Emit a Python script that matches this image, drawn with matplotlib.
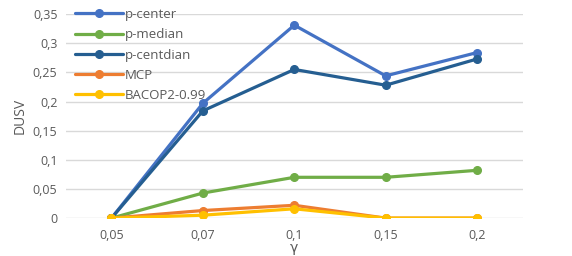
import matplotlib
matplotlib.use("Agg")
import matplotlib.pyplot as plt

plt.rcParams["font.family"] = ["Open Sans", "DejaVu Sans"]

gammas = ["0,05", "0,07", "0,1", "0,15", "0,2"]
p_center = [0.0, 0.197, 0.331, 0.244, 0.284]
p_median = [0.0, 0.043, 0.070, 0.070, 0.082]
p_centdian = [0.0, 0.184, 0.255, 0.228, 0.273]
mcp = [0.0, 0.013, 0.022, 0.0, 0.0]
bacop = [0.0, 0.005, 0.016, 0.0, 0.0]

series = [
    ("p-center", p_center, "#4472C4"),
    ("p-median", p_median, "#70AD47"),
    ("p-centdian", p_centdian, "#255E91"),
    ("MCP", mcp, "#ED7D31"),
    ("BACOP2-0.99", bacop, "#FFC000"),
]

fig = plt.figure(figsize=(5.72, 2.56), dpi=100)
ax = fig.add_axes([0.115, 0.148, 0.799, 0.797])

x = list(range(len(gammas)))
for name, vals, col in series:
    ax.plot(x, vals, color=col, lw=2.3, marker="o", ms=5.5, label=name,
            solid_capstyle="round")

ax.set_xlim(-0.5, len(gammas) - 0.5)
ax.set_ylim(0, 0.35)
ax.set_xticks(x)
ax.set_xticklabels(gammas)
yt = [0, 0.05, 0.1, 0.15, 0.2, 0.25, 0.3, 0.35]
ax.set_yticks(yt)
ax.set_yticklabels(["0", "0,05", "0,1", "0,15", "0,2", "0,25", "0,3", "0,35"])
ax.tick_params(length=0, labelsize=9, colors="#595959", pad=6)
ax.tick_params(axis="x", pad=8)
for s in ax.spines.values():
    s.set_visible(False)
ax.grid(axis="y", color="#D9D9D9", lw=1)
ax.set_axisbelow(True)
ax.set_ylabel("DUSV", fontsize=10, color="#595959", labelpad=4)
ax.set_xlabel("γ", fontsize=10, color="#595959", labelpad=-1,
              family=["DejaVu Sans"])

ax.legend(loc="upper left", bbox_to_anchor=(0.0, 1.075), frameon=False,
          fontsize=9.5, handlelength=3.6, labelspacing=0.55, handletextpad=0.15,
          labelcolor="#595959", borderpad=0.2)

fig.savefig("out.png", dpi=100)
